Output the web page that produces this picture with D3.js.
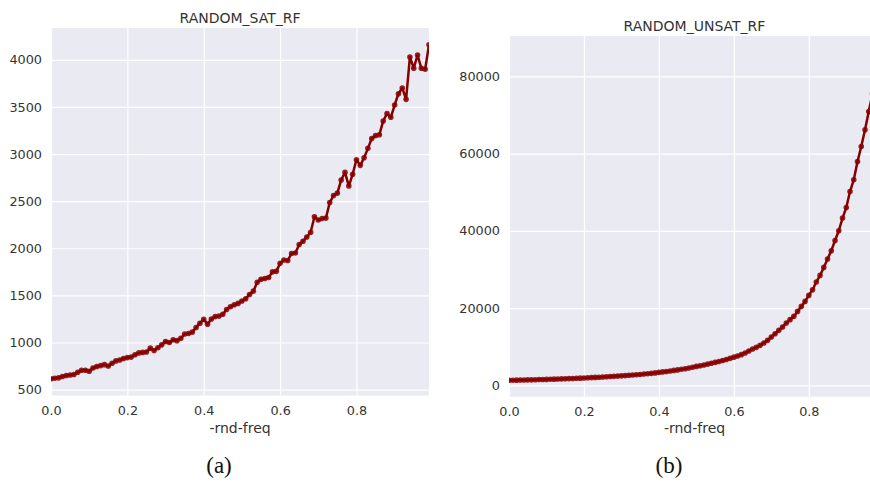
<!DOCTYPE html>
<html>
<head>
<meta charset="utf-8">
<script src="https://cdn.jsdelivr.net/npm/d3@7"></script>
<style>
  body { margin: 0; background: #fff; }
  svg { display: block; }
</style>
</head>
<body>
<svg id="chart" width="870" height="482"></svg>
<script>
// data: x runs 0.00 .. 0.99 in steps of 0.01
const freq = d3.range(100).map(i => i / 100);

const satRF = [
  615, 620, 625, 640, 650, 655, 660, 685, 705, 705,
  695, 730, 745, 755, 765, 750, 780, 805, 815, 830,
  840, 845, 870, 890, 895, 900, 940, 915, 945, 975,
  1010, 1000, 1030, 1020, 1045, 1090, 1095, 1110, 1160, 1205,
  1245, 1195, 1250, 1275, 1280, 1300, 1350, 1380, 1400, 1415,
  1440, 1465, 1510, 1545, 1640, 1670, 1680, 1690, 1750, 1755,
  1840, 1875, 1870, 1945, 1950, 2040, 2075, 2120, 2170, 2335,
  2300, 2315, 2320, 2485, 2560, 2585, 2725, 2805, 2660, 2785,
  2940, 2880, 2960, 3060, 3165, 3195, 3205, 3350, 3430, 3390,
  3520, 3640, 3700, 3580, 4030, 3910, 4050, 3910, 3900, 4160
];

const unsatRF = [
  1300, 1320, 1340, 1360, 1380, 1400, 1420, 1450, 1480, 1510,
  1540, 1570, 1600, 1630, 1660, 1700, 1740, 1780, 1820, 1860,
  1900, 1950, 2000, 2050, 2100, 2150, 2210, 2270, 2330, 2390,
  2450, 2520, 2590, 2660, 2740, 2820, 2910, 3000, 3100, 3220,
  3350, 3470, 3590, 3720, 3860, 4000, 4150, 4310, 4480, 4690,
  4900, 5080, 5270, 5480, 5700, 5930, 6170, 6430, 6700, 6990,
  7300, 7600, 7940, 8380, 8900, 9420, 9830, 10350, 10970, 11640,
  12520, 13370, 14230, 15110, 16140, 17000, 17850, 19140, 20440, 21730,
  23280, 24760, 26750, 28460, 30530, 32700, 34850, 37510, 40020, 43310,
  46050, 50190, 53210, 57950, 61830, 66150, 70880, 75500, 80500, 86200
];

const xTicks = [0, 0.2, 0.4, 0.6, 0.8];
const satTicks = [500, 1000, 1500, 2000, 2500, 3000, 3500, 4000];
const unsatTicks = [0, 20000, 40000, 60000, 80000];

const titles = ["RANDOM_SAT_RF", "RANDOM_UNSAT_RF"];
const captions = ["(a)", "(b)"];

const svg = d3.select("#chart");
const font = "'DejaVu Sans', sans-serif";
const textColor = "#333";
const lineColor = "#870000";

const panels = [
  { left: 51, top: 28, w: 378, h: 367.5, values: satRF, yTicks: satTicks, capX: 219 },
  { left: 509, top: 36, w: 371, h: 360.7, values: unsatRF, yTicks: unsatTicks, capX: 669 }
];

const defs = svg.append("defs");

panels.forEach((p, i) => {
  const g = svg.append("g").attr("transform", `translate(${p.left},${p.top})`);

  g.append("rect")
    .attr("width", p.w)
    .attr("height", p.h)
    .attr("fill", "#eaeaf2");

  const x = d3.scaleLinear().domain([0, 0.99]).range([0, p.w]);

  // matplotlib-style 5% padding on y
  const ext = d3.extent(p.values);
  const pad = (ext[1] - ext[0]) * 0.05;
  const y = d3.scaleLinear().domain([ext[0] - pad, ext[1] + pad]).range([p.h, 0]);

  const xAxis = g.append("g")
    .attr("transform", `translate(0,${p.h})`)
    .call(d3.axisBottom(x).tickValues(xTicks).tickFormat(d3.format(".1f"))
      .tickSize(-p.h).tickPadding(10));

  const yAxis = g.append("g")
    .call(d3.axisLeft(y).tickValues(p.yTicks).tickFormat(d3.format("d"))
      .tickSize(-p.w).tickPadding(9));

  [xAxis, yAxis].forEach(ax => {
    ax.select(".domain").remove();
    ax.selectAll(".tick line").attr("stroke", "#fff").attr("stroke-width", 1.2);
    ax.selectAll(".tick text")
      .attr("fill", textColor)
      .attr("font-family", font)
      .attr("font-size", "12.8px");
  });

  const clipId = "clip" + i;
  defs.append("clipPath").attr("id", clipId)
    .append("rect").attr("width", p.w).attr("height", p.h);

  const plot = g.append("g").attr("clip-path", `url(#${clipId})`);

  const line = d3.line()
    .x((d, j) => x(freq[j]))
    .y(d => y(d));

  plot.append("path")
    .datum(p.values)
    .attr("fill", "none")
    .attr("stroke", lineColor)
    .attr("stroke-width", 2.5)
    .attr("stroke-linejoin", "round")
    .attr("d", line);

  plot.selectAll("circle")
    .data(p.values)
    .join("circle")
      .attr("cx", (d, j) => x(freq[j]))
      .attr("cy", d => y(d))
      .attr("r", 2.8)
      .attr("fill", lineColor)
      .attr("opacity", 0.85);

  // title
  svg.append("text")
    .attr("x", p.left + p.w / 2)
    .attr("y", p.top - 5.5)
    .attr("text-anchor", "middle")
    .attr("fill", textColor)
    .attr("font-family", font)
    .attr("font-size", "14px")
    .text(titles[i]);

  // x label
  svg.append("text")
    .attr("x", p.left + p.w / 2)
    .attr("y", 433)
    .attr("text-anchor", "middle")
    .attr("fill", textColor)
    .attr("font-family", font)
    .attr("font-size", "14px")
    .text("-rnd-freq");

  // subfigure caption
  svg.append("text")
    .attr("x", p.capX)
    .attr("y", 473)
    .attr("text-anchor", "middle")
    .attr("fill", "#111")
    .attr("font-family", "'Liberation Serif', 'DejaVu Serif', serif")
    .attr("font-size", "23px")
    .text(captions[i]);
});
</script>
</body>
</html>
